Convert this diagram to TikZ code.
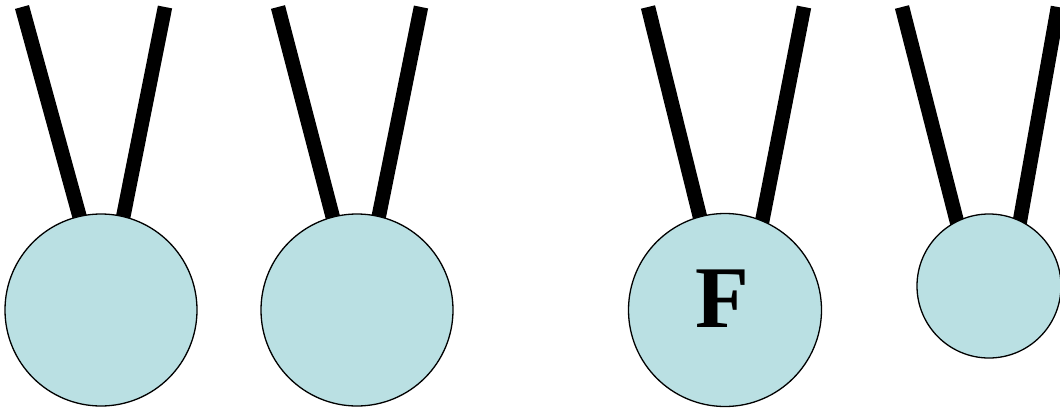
\documentclass[tikz,border=0pt]{standalone}
\usepackage{fontspec}
\setmainfont{Liberation Serif}
\usetikzlibrary{backgrounds}
\definecolor{Ball}{HTML}{BAE0E3}

\begin{document}
\begin{tikzpicture}[x=1pt,y=-1pt,
ball/.style={circle,draw=black,line width=1.3pt,fill=Ball,inner sep=0pt},
cord/.style={line width=14.5pt,black}]
\useasboundingbox (0,0) rectangle (1060,410);
\node[ball,minimum size=192pt] (b1) at (101,310) {};
\node[ball,minimum size=192pt] (b2) at (357,310) {};
\node[ball,minimum size=193pt] (b3) at (725,310) {};
\node[ball,minimum size=144pt] (b4) at (989,286) {};
\node[inner sep=0pt,font=\fontsize{88}{88}\selectfont\bfseries] (f) at (722,299) {F};
% cord ends: top, then a point hidden inside the ball
\foreach \n/\x/\y/\u/\v in {1l/22/7/91.5/260,1r/165/7/114.6/260,
  2l/278/7/344/260,2r/421/7/370/260,3l/648/7/710.6/260,3r/804/7/754.6/260,
  4l/902/7/966.7/260,4r/1058/7/1013/260}{
  \coordinate (t\n) at (\x,\y);
  \coordinate (k\n) at (\u,\v);
}
\begin{scope}[on background layer]
\foreach \n in {1l,1r,2l,2r,3l,3r,4l,4r}{\draw[cord] (t\n)--(k\n);}
\end{scope}
\end{tikzpicture}
\end{document}
